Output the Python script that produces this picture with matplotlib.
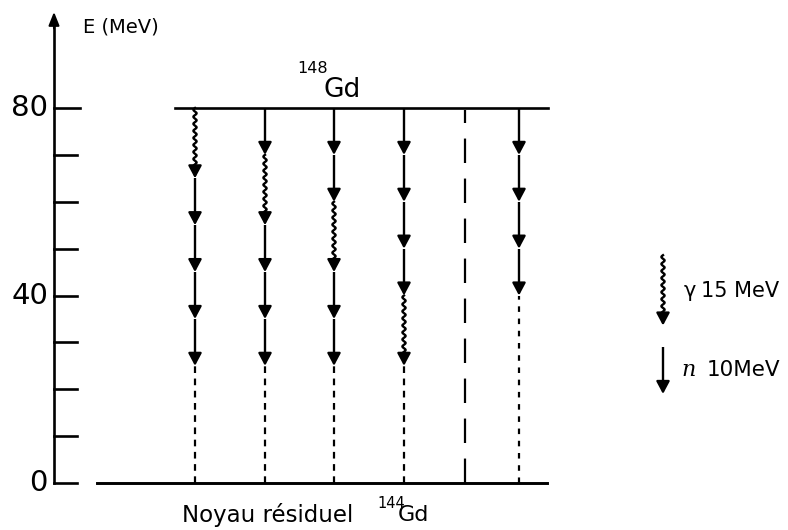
import numpy as np
import matplotlib
matplotlib.use("Agg")
import matplotlib.pyplot as plt

# ---- data ----
E_start = 80            # MeV, excitation of 148Gd
E_gamma = 15            # MeV per gamma step
E_neutron = 10          # MeV per neutron step
axis_ticks = [0, 10, 20, 30, 40, 50, 60, 70, 80]
tick_labels = {0: "0", 40: "40", 80: "80"}
# decay chains: 'g' = gamma (15 MeV), 'n' = neutron (10 MeV)
chains = [
    ["g", "n", "n", "n", "n"],
    ["n", "g", "n", "n", "n"],
    ["n", "n", "g", "n", "n"],
    ["n", "n", "n", "n", "g"],
    [],
    ["n", "n", "n", "n"],
]
chain_x = [195, 265, 334, 404, 465, 519]   # horizontal positions (layout)
tail_styles = [(0, (3, 2.5)), (0, (3, 2.5)), (0, (3, 2.5)), (0, (3, 2.5)),
               (0, (11, 7)), (0, (2.5, 3))]

# ---- figure ----
fig = plt.figure(figsize=(7.88, 5.30), dpi=100)
ax = fig.add_axes([0, 0, 1, 1])
px_per_mev = 46.875 / 10
ax.set_xlim(0, 788)
ax.set_ylim((483 - 530) / px_per_mev, 483 / px_per_mev)
ax.axis("off")

K = "black"
LW = 1.7


def head(x, y_end):
    ax.annotate("", xy=(x, y_end), xytext=(x, y_end + 2.2),
                arrowprops=dict(arrowstyle="-|>,head_length=0.75,head_width=0.4",
                                lw=LW, color=K, shrinkA=0, shrinkB=0))


def neutron(x, y0, y1):
    ax.plot([x, x], [y0, y1 + 1.5], color=K, lw=LW, solid_capstyle="butt")
    head(x, y1)


def gamma(x, y0, y1):
    yy = np.linspace(y0, y1 + 1.5, 300)
    xx = x + 1.6 * np.sin(2 * np.pi * (yy - y0) / 1.5)
    ax.plot(xx, yy, color=K, lw=LW)
    head(x, y1)


# energy axis
ax.plot([54, 54], [0, 98.5], color=K, lw=1.9)
ax.annotate("", xy=(54, 100.5), xytext=(54, 97),
            arrowprops=dict(arrowstyle="-|>,head_length=0.8,head_width=0.32",
                            lw=1.5, color=K, shrinkA=0, shrinkB=0))
for t in axis_ticks:
    ax.plot([54, 80 if t == 80 else 77], [t, t], color=K, lw=1.9)
    if t in tick_labels:
        ax.text(48, t, tick_labels[t], ha="right", va="center", fontsize=21, color=K)
ax.text(83, 97.3, "E (MeV)", ha="left", va="center", fontsize=14, color=K)

# levels
ax.plot([175, 548], [E_start, E_start], color=K, lw=1.9)
ax.plot([97, 547], [0, 0], color=K, lw=2.1)
ax.text(297, 88.4, "148", ha="left", va="center", fontsize=11.5, color=K)
ax.text(324, 83.8, "Gd", ha="left", va="center", fontsize=19, color=K)
ax.text(182, -6.9, "Noyau résiduel", ha="left", va="center", fontsize=16.5, color=K)
ax.text(377, -4.4, "144", ha="left", va="center", fontsize=10.5, color=K)
ax.text(398, -6.9, "Gd", ha="left", va="center", fontsize=16, color=K)

# decay chains
for x, steps, ls in zip(chain_x, chains, tail_styles):
    e = E_start
    for s in steps:
        de = E_gamma if s == "g" else E_neutron
        if s == "g":
            gamma(x, e, e - de)
        else:
            neutron(x, e, e - de)
        e -= de
    top = e if steps else e - 0.4
    ax.plot([x, x], [0, top], color=K, lw=1.6, linestyle=ls)

# legend
gamma(663, 48.6, 48.6 - E_gamma)
ax.text(684, 41.0, "γ", ha="left", va="center", fontsize=15, color=K)
ax.text(701, 41.0, "15 MeV", ha="left", va="center", fontsize=15, color=K)
neutron(663, 29.0, 29.0 - E_neutron)
ax.text(681, 24.0, "n", ha="left", va="center", fontsize=16, style="italic",
        family="DejaVu Serif", color=K)
ax.text(707, 24.0, "10MeV", ha="left", va="center", fontsize=15.5, color=K)

fig.savefig("out.png", dpi=100)
